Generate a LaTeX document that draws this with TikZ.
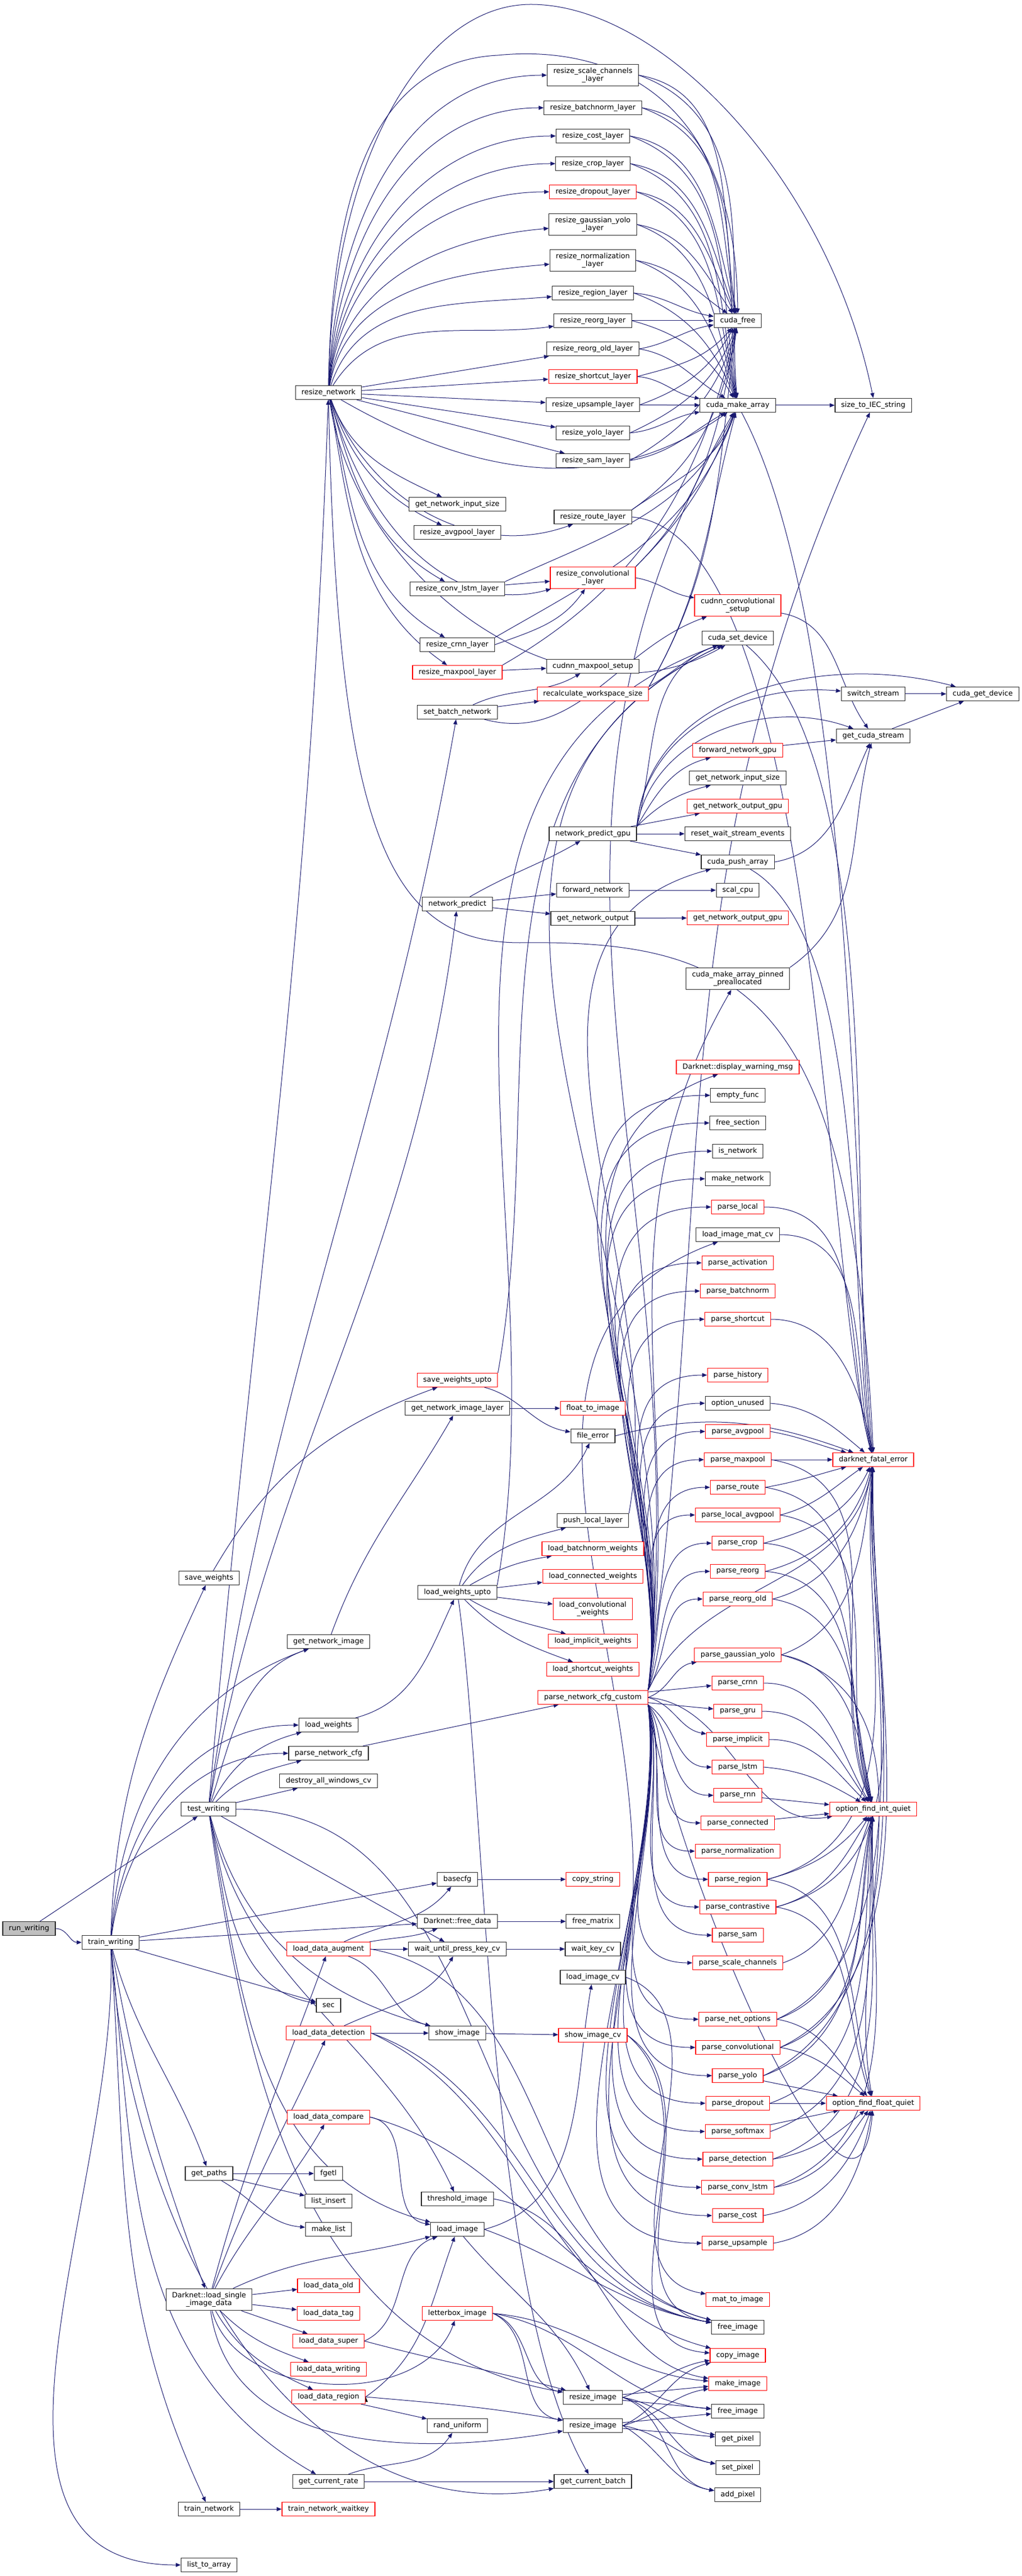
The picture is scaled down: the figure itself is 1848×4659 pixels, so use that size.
\documentclass[tikz,border=0pt]{standalone}
\usepackage{fontspec}
\setmainfont{DejaVu Sans}
\usetikzlibrary{arrows.meta, backgrounds}
\definecolor{dxblue}{RGB}{25,25,112}
\definecolor{dxred}{RGB}{255,0,0}
\definecolor{dxgrey}{RGB}{191,191,191}

\begin{document}
\begin{tikzpicture}[x=0.2pt,y=-0.2pt,->,>={Triangle[length=1.8pt,width=1.45pt]},
	call/.style={draw=dxblue, line width=0.2pt},
	every edge/.style={call},
	func/.style={draw=black!85, line width=0.24pt, fill=white, align=center, minimum height=5pt, inner xsep=2.2pt, inner ysep=1.2pt},
	funcred/.style={func, draw=dxred},
	funcroot/.style={func, fill=dxgrey}]
		\fontsize{2.6pt}{2.9pt}\selectfont
		\useasboundingbox (0,0) rectangle (1848,4659);

		\node[funcroot	] (RUN_WRITING) 		at (52.5,3488)	{run\_writing};
		\node[func		] (TRAIN_WRITING) 		at (200,3513)	{train\_writing};
		\node[func		] (TEST_WRITING) 		at (377,3272)	{test\_writing};
		\node[func		] (SAVE_WEIGHTS) 		at (378,2854)	{save\_weights};
		\node[func		] (GET_PATHS) 			at (378,3931)	{get\_paths};
		\node[func		] (LOAD_SINGLE) 		at (378,4159)	{Darknet::load\_single\\\_image\_data};
		\node[func		] (TRAIN_NETWORK) 		at (378,4538)	{train\_network};
		\node[func		] (LIST_TO_ARRAY) 		at (378,4639)	{list\_to\_array};

		\node[func		] (RESIZE_NETWORK) 		at (594,710)	{resize\_network};
		\node[func		] (GET_NETWORK_IMAGE) 	at (594,2969)	{get\_network\_image};
		\node[func		] (LOAD_WEIGHTS) 		at (594,3120)	{load\_weights};
		\node[func		] (PARSE_NETWORK_CFG) 	at (594,3171)	{parse\_network\_cfg};
		\node[func		] (DESTROY_WINDOWS) 	at (594,3221)	{destroy\_all\_windows\_cv};
		\node[funcred	] (LOAD_DATA_AUGMENT) 	at (594,3525)	{load\_data\_augment};
		\node[func		] (SEC) 				at (594,3627)	{sec};
		\node[funcred	] (LOAD_DATA_DETECTION) at (594,3677)	{load\_data\_detection};
		\node[funcred	] (LOAD_DATA_COMPARE) 	at (594,3829)	{load\_data\_compare};
		\node[func		] (FGETL) 				at (594,3931)	{fgetl};
		\node[func		] (LIST_INSERT) 		at (594,3981)	{list\_insert};
		\node[func		] (MAKE_LIST) 			at (594,4032)	{make\_list};
		\node[funcred	] (LOAD_DATA_OLD) 		at (594,4134)	{load\_data\_old};
		\node[funcred	] (LOAD_DATA_TAG) 		at (594,4184)	{load\_data\_tag};
		\node[funcred	] (LOAD_DATA_SUPER) 	at (594,4234)	{load\_data\_super};
		\node[funcred	] (LOAD_DATA_WRITING) 	at (594,4285)	{load\_data\_writing};
		\node[funcred	] (LOAD_DATA_REGION) 	at (594,4335)	{load\_data\_region};
		\node[func		] (GET_CURRENT_RATE) 	at (594,4488)	{get\_current\_rate};
		\node[funcred	] (TRAIN_NETWORK_WAITKEY) at (594,4538)	{train\_network\_waitkey};

		\node[func		] (GET_NETWORK_INPUT_SIZE_B) at (827,912)	{get\_network\_input\_size};
		\node[func		] (RESIZE_AVGPOOL) 		at (827,963)	{resize\_avgpool\_layer};
		\node[func		] (RESIZE_CONV_LSTM) 	at (827,1065)	{resize\_conv\_lstm\_layer};
		\node[func		] (RESIZE_CRNN) 		at (827,1166)	{resize\_crnn\_layer};
		\node[funcred	] (RESIZE_MAXPOOL) 		at (827,1216)	{resize\_maxpool\_layer};
		\node[func		] (SET_BATCH_NETWORK) 	at (827,1288)	{set\_batch\_network};
		\node[func		] (NETWORK_PREDICT) 	at (827,1635)	{network\_predict};
		\node[funcred	] (SAVE_WEIGHTS_UPTO) 	at (827,2496)	{save\_weights\_upto};
		\node[func		] (GET_NETWORK_IMAGE_LAYER) at (827,2547)	{get\_network\_image\_layer};
		\node[func		] (LOAD_WEIGHTS_UPTO) 	at (827,2880)	{load\_weights\_upto};
		\node[func		] (BASECFG) 			at (827,3399)	{basecfg};
		\node[func		] (FREE_DATA) 			at (827,3475)	{Darknet::free\_data};
		\node[func		] (WAIT_UNTIL) 			at (827,3525)	{wait\_until\_press\_key\_cv};
		\node[func		] (SHOW_IMAGE) 			at (827,3677)	{show\_image};
		\node[func		] (THRESHOLD_IMAGE) 	at (827,3977)	{threshold\_image};
		\node[func		] (LOAD_IMAGE) 			at (827,4032)	{load\_image};
		\node[funcred	] (LETTERBOX_IMAGE) 	at (827,4184)	{letterbox\_image};
		\node[func		] (RAND_UNIFORM) 		at (827,4387)	{rand\_uniform};

		\node[func		] (RESIZE_SCALE_CHANNELS) at (1072,136)	{resize\_scale\_channels\\\_layer};
		\node[func		] (RESIZE_BATCHNORM) 	at (1072,195)	{resize\_batchnorm\_layer};
		\node[func		] (RESIZE_COST) 		at (1072,246)	{resize\_cost\_layer};
		\node[func		] (RESIZE_CROP) 		at (1072,296)	{resize\_crop\_layer};
		\node[funcred	] (RESIZE_DROPOUT) 		at (1072,347)	{resize\_dropout\_layer};
		\node[func		] (RESIZE_GAUSSIAN_YOLO) at (1072,406)	{resize\_gaussian\_yolo\\\_layer};
		\node[func		] (RESIZE_NORMALIZATION) at (1072,471)	{resize\_normalization\\\_layer};
		\node[func		] (RESIZE_REGION) 		at (1072,530)	{resize\_region\_layer};
		\node[func		] (RESIZE_REORG) 		at (1072,580)	{resize\_reorg\_layer};
		\node[func		] (RESIZE_REORG_OLD) 	at (1072,631)	{resize\_reorg\_old\_layer};
		\node[funcred	] (RESIZE_SHORTCUT) 	at (1072,681)	{resize\_shortcut\_layer};
		\node[func		] (RESIZE_UPSAMPLE) 	at (1072,732)	{resize\_upsample\_layer};
		\node[func		] (RESIZE_YOLO) 		at (1072,783)	{resize\_yolo\_layer};
		\node[func		] (RESIZE_SAM) 			at (1072,833)	{resize\_sam\_layer};
		\node[func		] (RESIZE_ROUTE) 		at (1072,935)	{resize\_route\_layer};
		\node[funcred	] (RESIZE_CONVOLUTIONAL) at (1072,1045)	{resize\_convolutional\\\_layer};
		\node[func		] (CUDNN_MAXPOOL_SETUP) at (1072,1205)	{cudnn\_maxpool\_setup};
		\node[funcred	] (RECALC_WORKSPACE) 	at (1072,1255)	{recalculate\_workspace\_size};
		\node[func		] (NETWORK_PREDICT_GPU) at (1072,1508)	{network\_predict\_gpu};
		\node[func		] (FORWARD_NETWORK) 	at (1072,1610)	{forward\_network};
		\node[func		] (GET_NETWORK_OUTPUT) 	at (1072,1661)	{get\_network\_output};
		\node[funcred	] (FLOAT_TO_IMAGE) 		at (1072,2547)	{float\_to\_image};
		\node[func		] (FILE_ERROR) 			at (1072,2597)	{file\_error};
		\node[func		] (PUSH_LOCAL_LAYER) 	at (1072,2750)	{push\_local\_layer};
		\node[funcred	] (LOAD_BATCHNORM_W) 	at (1072,2801)	{load\_batchnorm\_weights};
		\node[funcred	] (LOAD_CONNECTED_W) 	at (1072,2851)	{load\_connected\_weights};
		\node[funcred	] (LOAD_CONVOLUTIONAL_W) at (1072,2910)	{load\_convolutional\\\_weights};
		\node[funcred	] (LOAD_IMPLICIT_W) 	at (1072,2968)	{load\_implicit\_weights};
		\node[funcred	] (LOAD_SHORTCUT_W) 	at (1072,3019)	{load\_shortcut\_weights};
		\node[funcred	] (PARSE_NETWORK_CFG_CUSTOM) at (1072,3070)	{parse\_network\_cfg\_custom};
		\node[funcred	] (COPY_STRING) 		at (1072,3399)	{copy\_string};
		\node[func		] (FREE_MATRIX) 		at (1072,3475)	{free\_matrix};
		\node[func		] (WAIT_KEY_CV) 		at (1072,3525)	{wait\_key\_cv};
		\node[func		] (LOAD_IMAGE_CV) 		at (1072,3576)	{load\_image\_cv};
		\node[funcred	] (SHOW_IMAGE_CV) 		at (1072,3681)	{show\_image\_cv};
		\node[func		] (RESIZE_IMAGE_A) 		at (1072,4336)	{resize\_image};
		\node[func		] (RESIZE_IMAGE_B) 		at (1072,4387)	{resize\_image};
		\node[func		] (GET_CURRENT_BATCH) 	at (1072,4488)	{get\_current\_batch};

		\node[func		] (CUDA_FREE) 			at (1334,580)	{cuda\_free};
		\node[func		] (CUDA_MAKE_ARRAY) 	at (1334,733)	{cuda\_make\_array};
		\node[funcred	] (CUDNN_CONV_SETUP) 	at (1334,1095)	{cudnn\_convolutional\\\_setup};
		\node[func		] (CUDA_SET_DEVICE) 	at (1334,1154)	{cuda\_set\_device};
		\node[funcred	] (FORWARD_NETWORK_GPU) at (1334,1357)	{forward\_network\_gpu};
		\node[func		] (GET_NETWORK_INPUT_SIZE_D) at (1334,1407)	{get\_network\_input\_size};
		\node[funcred	] (GET_NETWORK_OUTPUT_GPU_A) at (1334,1458)	{get\_network\_output\_gpu};
		\node[func		] (RESET_WAIT) 			at (1334,1508)	{reset\_wait\_stream\_events};
		\node[func		] (CUDA_PUSH_ARRAY) 	at (1334,1559)	{cuda\_push\_array};
		\node[func		] (SCAL_CPU) 			at (1334,1610)	{scal\_cpu};
		\node[funcred	] (GET_NETWORK_OUTPUT_GPU_B) at (1334,1660)	{get\_network\_output\_gpu};
		\node[func		] (CUDA_PINNED) 		at (1334,1770)	{cuda\_make\_array\_pinned\\\_preallocated};
		\node[funcred	] (DISPLAY_WARNING) 	at (1334,1930)	{Darknet::display\_warning\_msg};
		\node[func		] (EMPTY_FUNC) 			at (1334,1981)	{empty\_func};
		\node[func		] (FREE_SECTION) 		at (1334,2031)	{free\_section};
		\node[func		] (IS_NETWORK) 			at (1334,2082)	{is\_network};
		\node[func		] (MAKE_NETWORK) 		at (1334,2132)	{make\_network};
		\node[funcred	] (PARSE_LOCAL) 		at (1334,2183)	{parse\_local};
		\node[func		] (LOAD_IMAGE_MAT_CV) 	at (1334,2233)	{load\_image\_mat\_cv};
		\node[funcred	] (PARSE_ACTIVATION) 	at (1334,2284)	{parse\_activation};
		\node[funcred	] (PARSE_BATCHNORM) 	at (1334,2335)	{parse\_batchnorm};
		\node[funcred	] (PARSE_SHORTCUT) 		at (1334,2386)	{parse\_shortcut};
		\node[funcred	] (PARSE_HISTORY) 		at (1334,2487)	{parse\_history};
		\node[func		] (OPTION_UNUSED) 		at (1334,2538)	{option\_unused};
		\node[funcred	] (PARSE_AVGPOOL) 		at (1334,2589)	{parse\_avgpool};
		\node[funcred	] (PARSE_MAXPOOL) 		at (1334,2640)	{parse\_maxpool};
		\node[funcred	] (PARSE_ROUTE) 		at (1334,2690)	{parse\_route};
		\node[funcred	] (PARSE_LOCAL_AVGPOOL) at (1334,2740)	{parse\_local\_avgpool};
		\node[funcred	] (PARSE_CROP) 			at (1334,2791)	{parse\_crop};
		\node[funcred	] (PARSE_REORG) 		at (1334,2842)	{parse\_reorg};
		\node[funcred	] (PARSE_REORG_OLD) 	at (1334,2892)	{parse\_reorg\_old};
		\node[funcred	] (PARSE_GAUSSIAN_YOLO) at (1334,2993)	{parse\_gaussian\_yolo};
		\node[funcred	] (PARSE_CRNN) 			at (1334,3044)	{parse\_crnn};
		\node[funcred	] (PARSE_GRU) 			at (1334,3095)	{parse\_gru};
		\node[funcred	] (PARSE_IMPLICIT) 		at (1334,3146)	{parse\_implicit};
		\node[funcred	] (PARSE_LSTM) 			at (1334,3196)	{parse\_lstm};
		\node[funcred	] (PARSE_RNN) 			at (1334,3247)	{parse\_rnn};
		\node[funcred	] (PARSE_CONNECTED) 	at (1334,3297)	{parse\_connected};
		\node[funcred	] (PARSE_NORMALIZATION) at (1334,3348)	{parse\_normalization};
		\node[funcred	] (PARSE_REGION) 		at (1334,3399)	{parse\_region};
		\node[funcred	] (PARSE_CONTRASTIVE) 	at (1334,3449)	{parse\_contrastive};
		\node[funcred	] (PARSE_SAM) 			at (1334,3500)	{parse\_sam};
		\node[funcred	] (PARSE_SCALE_CHANNELS) at (1334,3550)	{parse\_scale\_channels};
		\node[funcred	] (PARSE_NET_OPTIONS) 	at (1334,3652)	{parse\_net\_options};
		\node[funcred	] (PARSE_CONVOLUTIONAL) at (1334,3703)	{parse\_convolutional};
		\node[funcred	] (PARSE_YOLO) 			at (1334,3754)	{parse\_yolo};
		\node[funcred	] (PARSE_DROPOUT) 		at (1334,3804)	{parse\_dropout};
		\node[funcred	] (PARSE_SOFTMAX) 		at (1334,3855)	{parse\_softmax};
		\node[funcred	] (PARSE_DETECTION) 	at (1334,3905)	{parse\_detection};
		\node[funcred	] (PARSE_CONV_LSTM) 	at (1334,3956)	{parse\_conv\_lstm};
		\node[funcred	] (PARSE_COST) 			at (1334,4007)	{parse\_cost};
		\node[funcred	] (PARSE_UPSAMPLE) 		at (1334,4057)	{parse\_upsample};
		\node[funcred	] (MAT_TO_IMAGE) 		at (1334,4159)	{mat\_to\_image};
		\node[func		] (FREE_IMAGE_A) 		at (1334,4209)	{free\_image};
		\node[funcred	] (COPY_IMAGE) 			at (1334,4260)	{copy\_image};
		\node[funcred	] (MAKE_IMAGE) 			at (1334,4311)	{make\_image};
		\node[func		] (FREE_IMAGE_B) 		at (1334,4361)	{free\_image};
		\node[func		] (GET_PIXEL) 			at (1334,4411)	{get\_pixel};
		\node[func		] (SET_PIXEL) 			at (1334,4463)	{set\_pixel};
		\node[func		] (ADD_PIXEL) 			at (1334,4512)	{add\_pixel};

		\node[func		] (SIZE_TO_IEC) 		at (1579,733)	{size\_to\_IEC\_string};
		\node[func		] (SWITCH_STREAM) 		at (1579,1255)	{switch\_stream};
		\node[func		] (GET_CUDA_STREAM) 	at (1579,1331)	{get\_cuda\_stream};
		\node[funcred	] (DARKNET_FATAL_ERROR) at (1579,2640)	{darknet\_fatal\_error};
		\node[funcred	] (OPTION_FIND_INT_QUIET) at (1579,3272)	{option\_find\_int\_quiet};
		\node[funcred	] (OPTION_FIND_FLOAT_QUIET) at (1579,3804)	{option\_find\_float\_quiet};
		\node[func		] (CUDA_GET_DEVICE) 	at (1777,1255)	{cuda\_get\_device};

		\begin{pgfonlayer}{background}
		\draw	(RUN_WRITING)		edge[out=0, in=180		]	(TRAIN_WRITING)
				(RUN_WRITING)		edge[					]	(TEST_WRITING)

				(TRAIN_WRITING)		edge[out=88, in=-115	]	(SAVE_WEIGHTS)
				(TRAIN_WRITING)		edge[out=86, in=200		]	(GET_NETWORK_IMAGE)
				(TRAIN_WRITING)		edge[out=84, in=180		]	(LOAD_WEIGHTS)
				(TRAIN_WRITING)		edge[out=82, in=180		]	(PARSE_NETWORK_CFG)
				(TRAIN_WRITING)		edge[					]	(BASECFG)
				(TRAIN_WRITING)		edge[					]	(FREE_DATA)
				(TRAIN_WRITING)		edge[					]	(SEC)
				(TRAIN_WRITING)		edge[out=-75, in=110	]	(GET_PATHS)
				(TRAIN_WRITING)		edge[out=-80, in=110	]	(LOAD_SINGLE)
				(TRAIN_WRITING)		edge[out=-84, in=150	]	(GET_CURRENT_RATE)
				(TRAIN_WRITING)		edge[out=-86, in=115	]	(TRAIN_NETWORK)
				(TRAIN_WRITING)		edge[out=-88, in=180	]	(LIST_TO_ARRAY)
				(TRAIN_WRITING)		edge[out=-86, in=190	]	(GET_CURRENT_BATCH)

				(TEST_WRITING)		edge[out=85, in=-92		]	(RESIZE_NETWORK)
				(TEST_WRITING)		edge[out=82, in=-100	]	(SET_BATCH_NETWORK)
				(TEST_WRITING)		edge[out=80, in=-97		]	(NETWORK_PREDICT)
				(TEST_WRITING)		edge[out=72, in=200		]	(GET_NETWORK_IMAGE)
				(TEST_WRITING)		edge[out=62, in=195		]	(LOAD_WEIGHTS)
				(TEST_WRITING)		edge[out=45, in=195		]	(PARSE_NETWORK_CFG)
				(TEST_WRITING)		edge[					]	(DESTROY_WINDOWS)
				(TEST_WRITING)		edge[					]	(WAIT_UNTIL)
				(TEST_WRITING)		edge[out=-78, in=170	]	(SEC)
				(TEST_WRITING)		edge[out=-75, in=165	]	(SHOW_IMAGE)
				(TEST_WRITING)		edge[out=-78, in=115	]	(THRESHOLD_IMAGE)
				(TEST_WRITING)		edge[out=-80, in=165	]	(LOAD_IMAGE)
				(TEST_WRITING)		edge[out=-82, in=170	]	(RESIZE_IMAGE_A)
				(TEST_WRITING)		edge[out=0, in=165		]	(FREE_IMAGE_A)

				(SAVE_WEIGHTS)		edge[out=60, in=200		]	(SAVE_WEIGHTS_UPTO)
				(SAVE_WEIGHTS_UPTO)	edge[out=-15, in=170	]	(FILE_ERROR)
				(SAVE_WEIGHTS_UPTO.north east)	edge[out=80, in=205]	(CUDA_SET_DEVICE)
				(GET_NETWORK_IMAGE)	edge[out=70, in=-120	]	(GET_NETWORK_IMAGE_LAYER)
				(GET_NETWORK_IMAGE_LAYER) edge[				]	(FLOAT_TO_IMAGE)
				(LOAD_WEIGHTS)		edge[out=15, in=-115	]	(LOAD_WEIGHTS_UPTO)
				(LOAD_WEIGHTS_UPTO.north east)	edge[out=80, in=200]	(CUDA_SET_DEVICE)
				(LOAD_WEIGHTS_UPTO)	edge[out=75, in=-115	]	(FILE_ERROR)
				(LOAD_WEIGHTS_UPTO)	edge[out=55, in=195		]	(PUSH_LOCAL_LAYER)
				(LOAD_WEIGHTS_UPTO)	edge[out=30, in=190		]	(LOAD_BATCHNORM_W)
				(LOAD_WEIGHTS_UPTO)	edge[					]	(LOAD_CONNECTED_W)
				(LOAD_WEIGHTS_UPTO)	edge[					]	(LOAD_CONVOLUTIONAL_W)
				(LOAD_WEIGHTS_UPTO)	edge[out=-30, in=165	]	(LOAD_IMPLICIT_W)
				(LOAD_WEIGHTS_UPTO)	edge[out=-45, in=160	]	(LOAD_SHORTCUT_W)
				(LOAD_WEIGHTS_UPTO)	edge[out=-82, in=120, looseness=0.6]	(GET_CURRENT_BATCH)
				(PARSE_NETWORK_CFG)	edge[					]	(PARSE_NETWORK_CFG_CUSTOM)

				(RESIZE_NETWORK)	edge[out=88, in=180		]	(RESIZE_SCALE_CHANNELS)
				(RESIZE_NETWORK)	edge[out=87, in=180		]	(RESIZE_BATCHNORM)
				(RESIZE_NETWORK)	edge[out=86, in=180		]	(RESIZE_COST)
				(RESIZE_NETWORK)	edge[out=85, in=180		]	(RESIZE_CROP)
				(RESIZE_NETWORK)	edge[out=84, in=180		]	(RESIZE_DROPOUT)
				(RESIZE_NETWORK)	edge[out=82, in=185		]	(RESIZE_GAUSSIAN_YOLO)
				(RESIZE_NETWORK)	edge[out=80, in=185		]	(RESIZE_NORMALIZATION)
				(RESIZE_NETWORK)	edge[out=72, in=185		]	(RESIZE_REGION)
				(RESIZE_NETWORK)	edge[out=58, in=188		]	(RESIZE_REORG)
				(RESIZE_NETWORK)	edge[					]	(RESIZE_REORG_OLD)
				(RESIZE_NETWORK)	edge[					]	(RESIZE_SHORTCUT)
				(RESIZE_NETWORK)	edge[					]	(RESIZE_UPSAMPLE)
				(RESIZE_NETWORK)	edge[					]	(RESIZE_YOLO)
				(RESIZE_NETWORK)	edge[					]	(RESIZE_SAM)
				(RESIZE_NETWORK)	edge[out=-30, in=-145	]	(CUDA_MAKE_ARRAY)
				(RESIZE_NETWORK)	edge[out=-70, in=155	]	(GET_NETWORK_INPUT_SIZE_B)
				(RESIZE_NETWORK)	edge[out=-72, in=155	]	(RESIZE_AVGPOOL)
				(RESIZE_NETWORK)	edge[out=-70, in=200	]	(RESIZE_ROUTE)
				(RESIZE_NETWORK)	edge[out=-75, in=150	]	(RESIZE_CONV_LSTM)
				(RESIZE_NETWORK)	edge[out=-75, in=195	]	(RESIZE_CONVOLUTIONAL)
				(RESIZE_NETWORK)	edge[out=-78, in=150	]	(RESIZE_CRNN)
				(RESIZE_NETWORK)	edge[out=-80, in=145	]	(RESIZE_MAXPOOL)
				(RESIZE_NETWORK)	edge[out=-82, in=210	]	(CUDA_SET_DEVICE)

				(RESIZE_SCALE_CHANNELS.east)	edge[out=-10, in=100]	(CUDA_FREE)
				(RESIZE_SCALE_CHANNELS.east)	edge[out=-20, in=95	]	(CUDA_MAKE_ARRAY)
				(RESIZE_BATCHNORM.east)	edge[out=-10, in=102	]	(CUDA_FREE)
				(RESIZE_BATCHNORM.east)	edge[out=-20, in=97		]	(CUDA_MAKE_ARRAY)
				(RESIZE_COST.east)		edge[out=-10, in=105	]	(CUDA_FREE)
				(RESIZE_COST.east)		edge[out=-20, in=99		]	(CUDA_MAKE_ARRAY)
				(RESIZE_CROP.east)		edge[out=-10, in=110	]	(CUDA_FREE)
				(RESIZE_CROP.east)		edge[out=-20, in=101	]	(CUDA_MAKE_ARRAY)
				(RESIZE_DROPOUT.east)	edge[out=-10, in=115	]	(CUDA_FREE)
				(RESIZE_DROPOUT.east)	edge[out=-20, in=103	]	(CUDA_MAKE_ARRAY)
				(RESIZE_GAUSSIAN_YOLO.east)	edge[out=-10, in=125]	(CUDA_FREE)
				(RESIZE_GAUSSIAN_YOLO.east)	edge[out=-20, in=105]	(CUDA_MAKE_ARRAY)
				(RESIZE_NORMALIZATION.east)	edge[out=-10, in=145]	(CUDA_FREE)
				(RESIZE_NORMALIZATION.east)	edge[out=-20, in=108]	(CUDA_MAKE_ARRAY)
				(RESIZE_REGION.east)	edge[out=-5, in=170		]	(CUDA_FREE)
				(RESIZE_REGION.east)	edge[out=-20, in=112	]	(CUDA_MAKE_ARRAY)
				(RESIZE_REORG)		edge[					]	(CUDA_FREE)
				(RESIZE_REORG.east)		edge[out=-15, in=120	]	(CUDA_MAKE_ARRAY)
				(RESIZE_REORG_OLD.east)	edge[out=10, in=190		]	(CUDA_FREE)
				(RESIZE_REORG_OLD.east)	edge[out=-10, in=150	]	(CUDA_MAKE_ARRAY)
				(RESIZE_SHORTCUT.east)	edge[out=15, in=-130	]	(CUDA_FREE)
				(RESIZE_SHORTCUT.east)	edge[out=-5, in=170		]	(CUDA_MAKE_ARRAY)
				(RESIZE_UPSAMPLE.east)	edge[out=20, in=-120	]	(CUDA_FREE)
				(RESIZE_UPSAMPLE)	edge[					]	(CUDA_MAKE_ARRAY)
				(RESIZE_YOLO.east)		edge[out=25, in=-110	]	(CUDA_FREE)
				(RESIZE_YOLO.east)		edge[out=5, in=190		]	(CUDA_MAKE_ARRAY)
				(RESIZE_SAM.east)		edge[out=30, in=-105	]	(CUDA_FREE)
				(RESIZE_SAM.east)		edge[out=10, in=-150	]	(CUDA_MAKE_ARRAY)
				(RESIZE_ROUTE.north east)	edge[out=35, in=-100]	(CUDA_FREE)
				(RESIZE_ROUTE.north east)	edge[out=35, in=-110]	(CUDA_MAKE_ARRAY)
				(RESIZE_ROUTE.east)		edge[out=-5, in=105, looseness=0.5]	(DARKNET_FATAL_ERROR)
				(RESIZE_CONVOLUTIONAL.north east)	edge[out=45, in=-100]	(CUDA_FREE)
				(RESIZE_CONVOLUTIONAL.north east)	edge[out=45, in=-112]	(CUDA_MAKE_ARRAY)
				(RESIZE_CONVOLUTIONAL.east)	edge[out=-10, in=170]	(CUDNN_CONV_SETUP)
				(RESIZE_CONV_LSTM)	edge[					]	(RESIZE_CONVOLUTIONAL)
				(RESIZE_CONV_LSTM.north east)	edge[out=25, in=-115]	(CUDA_MAKE_ARRAY)
				(RESIZE_CRNN.east)		edge[out=20, in=-125	]	(RESIZE_CONVOLUTIONAL)
				(RESIZE_CRNN.north east)	edge[out=30, in=-110]	(CUDA_MAKE_ARRAY)
				(RESIZE_MAXPOOL)	edge[					]	(CUDNN_MAXPOOL_SETUP)
				(RESIZE_MAXPOOL.north east)	edge[out=30, in=-103]	(CUDA_FREE)
				(SET_BATCH_NETWORK)	edge[out=25, in=-150	]	(CUDNN_MAXPOOL_SETUP)
				(SET_BATCH_NETWORK)	edge[					]	(RECALC_WORKSPACE)
				(SET_BATCH_NETWORK)	edge[out=-15, in=200	]	(CUDNN_CONV_SETUP)
				(RECALC_WORKSPACE.north east)	edge[out=30, in=200]	(CUDA_SET_DEVICE)
				(RECALC_WORKSPACE.north east)	edge[out=60, in=-98]	(CUDA_FREE)
				(RECALC_WORKSPACE.north east)	edge[out=60, in=-105]	(CUDA_MAKE_ARRAY)
				(CUDNN_CONV_SETUP)	edge[out=-10, in=125	]	(GET_CUDA_STREAM)
				(CUDA_MAKE_ARRAY)	edge[					]	(SIZE_TO_IEC)
				(CUDA_MAKE_ARRAY)	edge[out=-62, in=95, looseness=0.6]	(DARKNET_FATAL_ERROR)
				(CUDA_SET_DEVICE)	edge[out=-40, in=98, looseness=0.6]	(DARKNET_FATAL_ERROR)
				(CUDA_PUSH_ARRAY)	edge[out=-30, in=100, looseness=0.6]	(DARKNET_FATAL_ERROR)

				(NETWORK_PREDICT)	edge[out=30, in=-150	]	(NETWORK_PREDICT_GPU)
				(NETWORK_PREDICT)	edge[					]	(FORWARD_NETWORK)
				(NETWORK_PREDICT)	edge[					]	(GET_NETWORK_OUTPUT)
				(NETWORK_PREDICT_GPU.north east)	edge[out=85, in=165]	(CUDA_GET_DEVICE)
				(NETWORK_PREDICT_GPU.north east)	edge[out=85, in=175]	(SWITCH_STREAM)
				(NETWORK_PREDICT_GPU.north east)	edge[out=80, in=160]	(GET_CUDA_STREAM)
				(NETWORK_PREDICT_GPU.north east)	edge[out=75, in=200]	(CUDA_SET_DEVICE)
				(NETWORK_PREDICT_GPU.north east)	edge[out=60, in=195]	(FORWARD_NETWORK_GPU)
				(NETWORK_PREDICT_GPU.north east)	edge[out=45, in=195]	(GET_NETWORK_INPUT_SIZE_D)
				(NETWORK_PREDICT_GPU)	edge[				]	(GET_NETWORK_OUTPUT_GPU_A)
				(NETWORK_PREDICT_GPU)	edge[				]	(RESET_WAIT)
				(NETWORK_PREDICT_GPU)	edge[				]	(CUDA_PUSH_ARRAY)
				(FORWARD_NETWORK_GPU)	edge[				]	(GET_CUDA_STREAM)
				(CUDA_PUSH_ARRAY.east)	edge[out=10, in=-115	]	(GET_CUDA_STREAM)
				(CUDA_PINNED.north east)	edge[out=35, in=-105]	(GET_CUDA_STREAM)
				(SWITCH_STREAM)		edge[					]	(CUDA_GET_DEVICE)
				(GET_CUDA_STREAM)	edge[					]	(CUDA_GET_DEVICE)
				(FORWARD_NETWORK)	edge[					]	(SCAL_CPU)
				(GET_NETWORK_OUTPUT)	edge[				]	(GET_NETWORK_OUTPUT_GPU_B)
				(PUSH_LOCAL_LAYER.north east)	edge[out=80, in=195]	(CUDA_PUSH_ARRAY)
				(FILE_ERROR.east)	edge[out=15, in=160		]	(DARKNET_FATAL_ERROR)

				(PARSE_NETWORK_CFG_CUSTOM.north east)	edge[out=82, in=-115]	(SIZE_TO_IEC)
				(PARSE_NETWORK_CFG_CUSTOM.north east)	edge[out=84, in=-120]	(CUDA_MAKE_ARRAY)
				(PARSE_NETWORK_CFG_CUSTOM.north east)	edge[out=82, in=205]	(CUDA_SET_DEVICE)
				(PARSE_NETWORK_CFG_CUSTOM.north east)	edge[out=82, in=-120]	(CUDA_PINNED)
				(PARSE_NETWORK_CFG_CUSTOM.north east)	edge[out=80, in=200]	(DISPLAY_WARNING)
				(PARSE_NETWORK_CFG_CUSTOM.north east)	edge[out=80, in=180]	(EMPTY_FUNC)
				(PARSE_NETWORK_CFG_CUSTOM.north east)	edge[out=80, in=180]	(FREE_SECTION)
				(PARSE_NETWORK_CFG_CUSTOM.north east)	edge[out=80, in=180]	(IS_NETWORK)
				(PARSE_NETWORK_CFG_CUSTOM.north east)	edge[out=80, in=180]	(MAKE_NETWORK)
				(PARSE_NETWORK_CFG_CUSTOM.north east)	edge[out=80, in=180]	(PARSE_LOCAL)
				(PARSE_NETWORK_CFG_CUSTOM.north east)	edge[out=80, in=180]	(PARSE_ACTIVATION)
				(PARSE_NETWORK_CFG_CUSTOM.north east)	edge[out=80, in=180]	(PARSE_BATCHNORM)
				(PARSE_NETWORK_CFG_CUSTOM.north east)	edge[out=80, in=180]	(PARSE_SHORTCUT)
				(PARSE_NETWORK_CFG_CUSTOM.north east)	edge[out=80, in=180]	(PARSE_HISTORY)
				(PARSE_NETWORK_CFG_CUSTOM.north east)	edge[out=80, in=180]	(OPTION_UNUSED)
				(PARSE_NETWORK_CFG_CUSTOM.north east)	edge[out=80, in=180]	(PARSE_AVGPOOL)
				(PARSE_NETWORK_CFG_CUSTOM.north east)	edge[out=80, in=180]	(PARSE_MAXPOOL)
				(PARSE_NETWORK_CFG_CUSTOM.north east)	edge[out=80, in=180]	(PARSE_ROUTE)
				(PARSE_NETWORK_CFG_CUSTOM.north east)	edge[out=78, in=180]	(PARSE_LOCAL_AVGPOOL)
				(PARSE_NETWORK_CFG_CUSTOM.north east)	edge[out=75, in=180]	(PARSE_CROP)
				(PARSE_NETWORK_CFG_CUSTOM.north east)	edge[out=70, in=180]	(PARSE_REORG)
				(PARSE_NETWORK_CFG_CUSTOM.north east)	edge[out=60, in=180]	(PARSE_REORG_OLD)
				(PARSE_NETWORK_CFG_CUSTOM.east)	edge[out=20, in=190]	(PARSE_GAUSSIAN_YOLO)
				(PARSE_NETWORK_CFG_CUSTOM)	edge[			]	(PARSE_CRNN)
				(PARSE_NETWORK_CFG_CUSTOM)	edge[			]	(PARSE_GRU)
				(PARSE_NETWORK_CFG_CUSTOM.east)	edge[out=-15, in=170]	(PARSE_IMPLICIT)
				(PARSE_NETWORK_CFG_CUSTOM.south east)	edge[out=-35, in=180]	(PARSE_LSTM)
				(PARSE_NETWORK_CFG_CUSTOM.south east)	edge[out=-50, in=180]	(PARSE_RNN)
				(PARSE_NETWORK_CFG_CUSTOM.south east)	edge[out=-60, in=180]	(PARSE_CONNECTED)
				(PARSE_NETWORK_CFG_CUSTOM.south east)	edge[out=-68, in=180]	(PARSE_NORMALIZATION)
				(PARSE_NETWORK_CFG_CUSTOM.south east)	edge[out=-72, in=180]	(PARSE_REGION)
				(PARSE_NETWORK_CFG_CUSTOM.south east)	edge[out=-75, in=180]	(PARSE_CONTRASTIVE)
				(PARSE_NETWORK_CFG_CUSTOM.south east)	edge[out=-77, in=180]	(PARSE_SAM)
				(PARSE_NETWORK_CFG_CUSTOM.south east)	edge[out=-78, in=180]	(PARSE_SCALE_CHANNELS)
				(PARSE_NETWORK_CFG_CUSTOM.south east)	edge[out=-80, in=180]	(PARSE_NET_OPTIONS)
				(PARSE_NETWORK_CFG_CUSTOM.south east)	edge[out=-80, in=180]	(PARSE_CONVOLUTIONAL)
				(PARSE_NETWORK_CFG_CUSTOM.south east)	edge[out=-81, in=180]	(PARSE_YOLO)
				(PARSE_NETWORK_CFG_CUSTOM.south east)	edge[out=-81, in=180]	(PARSE_DROPOUT)
				(PARSE_NETWORK_CFG_CUSTOM.south east)	edge[out=-82, in=180]	(PARSE_SOFTMAX)
				(PARSE_NETWORK_CFG_CUSTOM.south east)	edge[out=-82, in=180]	(PARSE_DETECTION)
				(PARSE_NETWORK_CFG_CUSTOM.south east)	edge[out=-83, in=180]	(PARSE_CONV_LSTM)
				(PARSE_NETWORK_CFG_CUSTOM.south east)	edge[out=-83, in=180]	(PARSE_COST)
				(PARSE_NETWORK_CFG_CUSTOM.south east)	edge[out=-84, in=180]	(PARSE_UPSAMPLE)
				(PARSE_NETWORK_CFG_CUSTOM.north east)	edge[out=65, in=-100]	(DARKNET_FATAL_ERROR)
				(PARSE_NETWORK_CFG_CUSTOM.east)	edge[out=-5, in=190]	(OPTION_FIND_INT_QUIET)
				(PARSE_NETWORK_CFG_CUSTOM.south east)	edge[out=-80, in=-95]	(OPTION_FIND_FLOAT_QUIET)

				(PARSE_LOCAL.east)		edge[out=0, in=105		]	(DARKNET_FATAL_ERROR)
				(LOAD_IMAGE_MAT_CV.east)	edge[out=0, in=103	]	(DARKNET_FATAL_ERROR)
				(PARSE_SHORTCUT.east)	edge[out=0, in=100		]	(DARKNET_FATAL_ERROR)
				(OPTION_UNUSED.east)	edge[out=-5, in=140		]	(DARKNET_FATAL_ERROR)
				(PARSE_AVGPOOL.east)	edge[out=-10, in=165	]	(DARKNET_FATAL_ERROR)
				(PARSE_MAXPOOL)		edge[					]	(DARKNET_FATAL_ERROR)
				(PARSE_ROUTE.east)		edge[out=10, in=195		]	(DARKNET_FATAL_ERROR)
				(PARSE_LOCAL_AVGPOOL.east)	edge[out=15, in=215	]	(DARKNET_FATAL_ERROR)
				(PARSE_CROP.east)		edge[out=15, in=-115	]	(DARKNET_FATAL_ERROR)
				(PARSE_REORG.east)		edge[out=15, in=-105	]	(DARKNET_FATAL_ERROR)
				(PARSE_REORG_OLD.east)	edge[out=15, in=-100	]	(DARKNET_FATAL_ERROR)
				(PARSE_GAUSSIAN_YOLO.east)	edge[out=20, in=-97	]	(DARKNET_FATAL_ERROR)
				(PARSE_REGION.east)		edge[out=15, in=-95		]	(DARKNET_FATAL_ERROR)
				(PARSE_CONTRASTIVE.east)	edge[out=15, in=-94	]	(DARKNET_FATAL_ERROR)
				(PARSE_NET_OPTIONS.east)	edge[out=25, in=-93, looseness=0.8]	(DARKNET_FATAL_ERROR)
				(PARSE_CONVOLUTIONAL.east)	edge[out=25, in=-92, looseness=0.8]	(DARKNET_FATAL_ERROR)
				(PARSE_YOLO.east)		edge[out=25, in=-91, looseness=0.8]	(DARKNET_FATAL_ERROR)

				(PARSE_MAXPOOL.east)	edge[out=-10, in=112	]	(OPTION_FIND_INT_QUIET)
				(PARSE_ROUTE.east)		edge[out=-10, in=110	]	(OPTION_FIND_INT_QUIET)
				(PARSE_LOCAL_AVGPOOL.east)	edge[out=-10, in=108]	(OPTION_FIND_INT_QUIET)
				(PARSE_CROP.east)		edge[out=-5, in=106		]	(OPTION_FIND_INT_QUIET)
				(PARSE_REORG.east)		edge[out=-5, in=104		]	(OPTION_FIND_INT_QUIET)
				(PARSE_REORG_OLD.east)	edge[out=-10, in=102	]	(OPTION_FIND_INT_QUIET)
				(PARSE_GAUSSIAN_YOLO.east)	edge[out=-10, in=100]	(OPTION_FIND_INT_QUIET)
				(PARSE_CRNN.east)		edge[out=0, in=120		]	(OPTION_FIND_INT_QUIET)
				(PARSE_GRU.east)		edge[out=0, in=125		]	(OPTION_FIND_INT_QUIET)
				(PARSE_IMPLICIT.east)	edge[out=0, in=135		]	(OPTION_FIND_INT_QUIET)
				(PARSE_LSTM.east)		edge[out=-5, in=150		]	(OPTION_FIND_INT_QUIET)
				(PARSE_RNN)			edge[					]	(OPTION_FIND_INT_QUIET)
				(PARSE_CONNECTED)	edge[					]	(OPTION_FIND_INT_QUIET)
				(PARSE_REGION.east)		edge[out=15, in=-130	]	(OPTION_FIND_INT_QUIET)
				(PARSE_CONTRASTIVE.east)	edge[out=15, in=-120]	(OPTION_FIND_INT_QUIET)
				(PARSE_SCALE_CHANNELS.east)	edge[out=20, in=-110]	(OPTION_FIND_INT_QUIET)
				(PARSE_NET_OPTIONS.east)	edge[out=20, in=-102]	(OPTION_FIND_INT_QUIET)
				(PARSE_CONVOLUTIONAL.east)	edge[out=20, in=-100]	(OPTION_FIND_INT_QUIET)
				(PARSE_YOLO.east)		edge[out=20, in=-98		]	(OPTION_FIND_INT_QUIET)
				(PARSE_DROPOUT.east)	edge[out=20, in=-96		]	(OPTION_FIND_INT_QUIET)
				(PARSE_SOFTMAX.east)	edge[out=20, in=-94		]	(OPTION_FIND_INT_QUIET)
				(PARSE_DETECTION.east)	edge[out=20, in=-93		]	(OPTION_FIND_INT_QUIET)
				(PARSE_CONV_LSTM.east)	edge[out=20, in=-92		]	(OPTION_FIND_INT_QUIET)

				(PARSE_GAUSSIAN_YOLO.east)	edge[out=-15, in=100]	(OPTION_FIND_FLOAT_QUIET)
				(PARSE_REGION.east)		edge[out=-10, in=105	]	(OPTION_FIND_FLOAT_QUIET)
				(PARSE_CONTRASTIVE.east)	edge[out=-10, in=110]	(OPTION_FIND_FLOAT_QUIET)
				(PARSE_NET_OPTIONS.east)	edge[out=-10, in=130]	(OPTION_FIND_FLOAT_QUIET)
				(PARSE_CONVOLUTIONAL.east)	edge[out=-10, in=140]	(OPTION_FIND_FLOAT_QUIET)
				(PARSE_YOLO)		edge[					]	(OPTION_FIND_FLOAT_QUIET)
				(PARSE_DROPOUT)		edge[					]	(OPTION_FIND_FLOAT_QUIET)
				(PARSE_SOFTMAX)		edge[					]	(OPTION_FIND_FLOAT_QUIET)
				(PARSE_DETECTION.east)	edge[out=10, in=-140	]	(OPTION_FIND_FLOAT_QUIET)
				(PARSE_CONV_LSTM.east)	edge[out=10, in=-125	]	(OPTION_FIND_FLOAT_QUIET)
				(PARSE_COST.east)		edge[out=10, in=-110	]	(OPTION_FIND_FLOAT_QUIET)
				(PARSE_UPSAMPLE.east)	edge[out=10, in=-100	]	(OPTION_FIND_FLOAT_QUIET)

				(BASECFG)			edge[					]	(COPY_STRING)
				(FREE_DATA)			edge[					]	(FREE_MATRIX)
				(WAIT_UNTIL)		edge[					]	(WAIT_KEY_CV)
				(SHOW_IMAGE)		edge[					]	(SHOW_IMAGE_CV)
				(LOAD_IMAGE_CV.north east)	edge[out=80, in=200]	(LOAD_IMAGE_MAT_CV)
				(LOAD_IMAGE_CV.east)	edge[out=-20, in=170	]	(MAT_TO_IMAGE)
				(SHOW_IMAGE_CV.east)	edge[out=-35, in=170	]	(FREE_IMAGE_A)
				(SHOW_IMAGE_CV.east)	edge[out=-40, in=175	]	(COPY_IMAGE)
				(THRESHOLD_IMAGE.east)	edge[out=-10, in=170	]	(MAKE_IMAGE)
				(LOAD_IMAGE.east)		edge[out=15, in=-100	]	(LOAD_IMAGE_CV)
				(LOAD_IMAGE)		edge[out=-50, in=115	]	(RESIZE_IMAGE_A)
				(LOAD_IMAGE.east)		edge[out=-20, in=170	]	(FREE_IMAGE_A)
				(LETTERBOX_IMAGE.east)	edge[out=-20, in=170	]	(RESIZE_IMAGE_A)
				(LETTERBOX_IMAGE.east)	edge[out=-25, in=170	]	(RESIZE_IMAGE_B)
				(LETTERBOX_IMAGE.east)	edge[out=-5, in=175		]	(MAKE_IMAGE)
				(LETTERBOX_IMAGE.east)	edge[out=-10, in=175	]	(FREE_IMAGE_B)
				(RESIZE_IMAGE_A.east)	edge[out=20, in=190		]	(COPY_IMAGE)
				(RESIZE_IMAGE_A)	edge[					]	(MAKE_IMAGE)
				(RESIZE_IMAGE_A)	edge[					]	(FREE_IMAGE_B)
				(RESIZE_IMAGE_A.east)	edge[out=-10, in=170	]	(GET_PIXEL)
				(RESIZE_IMAGE_A.east)	edge[out=-15, in=170	]	(SET_PIXEL)
				(RESIZE_IMAGE_A.east)	edge[out=-20, in=170	]	(ADD_PIXEL)
				(RESIZE_IMAGE_B.east)	edge[out=25, in=195		]	(COPY_IMAGE)
				(RESIZE_IMAGE_B.east)	edge[out=15, in=190		]	(MAKE_IMAGE)
				(RESIZE_IMAGE_B)	edge[					]	(FREE_IMAGE_B)
				(RESIZE_IMAGE_B)	edge[					]	(GET_PIXEL)
				(RESIZE_IMAGE_B.east)	edge[out=-10, in=170	]	(SET_PIXEL)
				(RESIZE_IMAGE_B.east)	edge[out=-30, in=170	]	(ADD_PIXEL)

				(LOAD_DATA_AUGMENT)	edge[out=25, in=-130	]	(BASECFG)
				(LOAD_DATA_AUGMENT)	edge[out=10, in=-160	]	(FREE_DATA)
				(LOAD_DATA_AUGMENT)	edge[					]	(WAIT_UNTIL)
				(LOAD_DATA_AUGMENT)	edge[out=-20, in=165	]	(SHOW_IMAGE)
				(LOAD_DATA_AUGMENT.east)	edge[out=-10, in=165]	(FREE_IMAGE_A)
				(LOAD_DATA_DETECTION)	edge[				]	(SHOW_IMAGE)
				(LOAD_DATA_DETECTION)	edge[out=25, in=-120]	(WAIT_UNTIL)
				(LOAD_DATA_DETECTION.east)	edge[out=-20, in=170]	(FREE_IMAGE_A)
				(LOAD_DATA_DETECTION.east)	edge[out=-25, in=165]	(COPY_IMAGE)
				(LOAD_DATA_COMPARE.east)	edge[out=-10, in=170]	(LOAD_IMAGE)
				(LOAD_DATA_COMPARE.east)	edge[out=-15, in=170]	(FREE_IMAGE_A)
				(LOAD_SINGLE)		edge[out=70, in=-115	]	(LOAD_DATA_DETECTION)
				(LOAD_SINGLE)		edge[out=62, in=-120	]	(LOAD_DATA_COMPARE)
				(LOAD_SINGLE)		edge[out=75, in=-110	]	(LOAD_DATA_AUGMENT)
				(LOAD_SINGLE)		edge[					]	(LOAD_DATA_OLD)
				(LOAD_SINGLE)		edge[					]	(LOAD_DATA_TAG)
				(LOAD_SINGLE)		edge[					]	(LOAD_DATA_SUPER)
				(LOAD_SINGLE)		edge[out=-45, in=160	]	(LOAD_DATA_WRITING)
				(LOAD_SINGLE)		edge[out=-60, in=155	]	(LOAD_DATA_REGION)
				(LOAD_SINGLE)		edge[out=25, in=195		]	(LOAD_IMAGE)
				(LOAD_SINGLE)		edge[out=-75, in=-110	]	(LETTERBOX_IMAGE)
				(LOAD_SINGLE)		edge[out=-82, in=190	]	(RESIZE_IMAGE_B)
				(LOAD_DATA_SUPER.east)	edge[out=25, in=200		]	(LOAD_IMAGE)
				(LOAD_DATA_SUPER.east)	edge[out=-15, in=165	]	(RESIZE_IMAGE_A)
				(LOAD_DATA_REGION.east)	edge[out=35, in=-110	]	(LOAD_IMAGE)
				(LOAD_DATA_REGION)	edge[					]	(RAND_UNIFORM)
				(LOAD_DATA_REGION.east)	edge[out=-5, in=170		]	(RESIZE_IMAGE_B)
				(GET_CURRENT_RATE)	edge[out=20, in=-125	]	(RAND_UNIFORM)
				(GET_CURRENT_RATE)	edge[					]	(GET_CURRENT_BATCH)
				(GET_PATHS)			edge[					]	(FGETL)
				(GET_PATHS)			edge[					]	(LIST_INSERT)
				(GET_PATHS)			edge[out=-30, in=175	]	(MAKE_LIST)
				(TRAIN_NETWORK)		edge[					]	(TRAIN_NETWORK_WAITKEY)
				;

		\draw[call] (RESIZE_NETWORK.north) .. controls (600,300) and (760,8) .. (960,8) .. controls (1200,8) and (1500,330) .. (SIZE_TO_IEC.north);
		\draw[call] (RESIZE_NETWORK.north) .. controls (600,300) and (700,110) .. (900,100) .. controls (1080,82) and (1330,150) .. (CUDA_FREE.north);
		\draw[call] (RESIZE_NETWORK.south) .. controls (610,1500) and (700,1705) .. (940,1705) .. controls (1350,1700) and (1540,1800) .. (DARKNET_FATAL_ERROR.north);
		\end{pgfonlayer}
	\end{tikzpicture}
\end{document}
